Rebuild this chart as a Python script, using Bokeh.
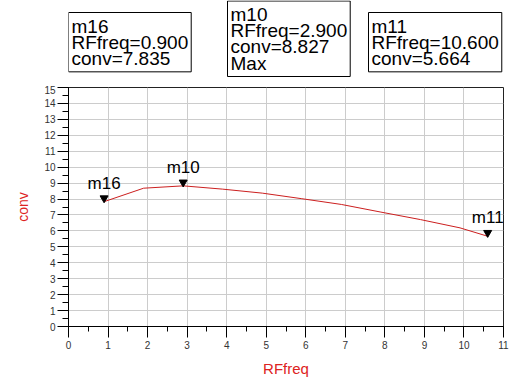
from bokeh.plotting import figure
from bokeh.models import Label, SingleIntervalTicker, Range1d
from bokeh.layouts import column
from bokeh.core.properties import value
from bokeh.embed import file_html
from bokeh.resources import INLINE

# ---- data ----
rf_freq = [0.9, 1.9, 2.9, 3.9, 4.9, 5.9, 6.9, 7.9, 8.9, 9.9, 10.6]
conv = [7.835, 8.68, 8.827, 8.62, 8.37, 8.02, 7.66, 7.18, 6.71, 6.19, 5.664]

marker_names = ["m16", "m10", "m11"]
marker_freq = [0.9, 2.9, 10.6]
marker_conv = [7.835, 8.827, 5.664]
marker_extra = ["", "Max", ""]

x_label = "RFfreq"
y_label = "conv"

FONT = "Liberation Sans"
W = 509
LEFT = 68
RIGHT = 6
HEADER_H = 85

# ---- main plot ----
p = figure(width=W, height=294, output_backend="svg", toolbar_location=None,
           x_range=Range1d(0, 11), y_range=Range1d(0, 15),
           min_border_left=LEFT, min_border_right=RIGHT, min_border_top=2, min_border_bottom=52)
p.background_fill_color = "white"
p.border_fill_color = "white"
p.outline_line_color = "#222222"
p.outline_line_width = 1

p.xaxis.ticker = SingleIntervalTicker(interval=1, num_minor_ticks=2)
p.yaxis.ticker = SingleIntervalTicker(interval=1, num_minor_ticks=2)
for ax in (p.xaxis[0], p.yaxis[0]):
    ax.axis_line_color = "black"
    ax.major_tick_line_color = "black"
    ax.minor_tick_line_color = "black"
    ax.major_tick_out = 11
    ax.major_tick_in = 0
    ax.minor_tick_out = 5
    ax.minor_tick_in = 0
    ax.major_label_text_font = FONT
    ax.major_label_text_font_size = "10px"
    ax.major_label_text_color = "#333333"
    ax.axis_label_text_font = FONT
    ax.axis_label_text_font_style = "normal"
    ax.axis_label_text_color = "#dd2222"
p.yaxis.minor_tick_out = 6
p.xaxis.major_label_standoff = 3
p.yaxis.major_label_standoff = 2
p.xaxis.axis_label = x_label
p.yaxis.axis_label = y_label
p.xaxis.axis_label_text_font_size = "15px"
p.yaxis.axis_label_text_font_size = "14px"
p.xaxis.axis_label_standoff = 8
p.yaxis.axis_label_standoff = 10

p.grid.grid_line_color = "#cccccc"
p.grid.grid_line_width = 1

p.line(rf_freq, conv, line_color="#cc1f1f", line_width=1)

# marker triangles: tip on the data point
px_per_unit_y = 240 / 15.0
tri_y = [v + 3.5 / px_per_unit_y for v in marker_conv]
p.scatter(marker_freq, tri_y, marker="inverted_triangle", size=8,
          fill_color="black", line_color="black")
p.text(marker_freq, marker_conv, text=marker_names, text_align="center",
       text_baseline="bottom", y_offset=-9, text_font=value(FONT),
       text_font_size="17px", text_color="black")

# ---- header with marker readout boxes ----
h = figure(width=W, height=HEADER_H, output_backend="svg", toolbar_location=None,
           x_range=Range1d(0, 11), y_range=Range1d(0, HEADER_H),
           min_border_left=LEFT, min_border_right=RIGHT, min_border_top=0, min_border_bottom=0)
h.axis.visible = False
h.grid.visible = False
h.outline_line_color = None
h.background_fill_color = "white"
h.border_fill_color = "white"

px_per_unit_x = (W - LEFT - RIGHT) / 11.0
box_left_px = [68, 227, 368]       # page pixels
box_top_px = [12, 0.5, 12]
for name, fx, cy, extra, bx, by in zip(marker_names, marker_freq, marker_conv,
                                        marker_extra, box_left_px, box_top_px):
    txt = f"{name}\n{x_label}={fx:.3f}\n{y_label}={cy:.3f}"
    if extra:
        txt += "\n" + extra
    lab = Label(x=(bx - LEFT) / px_per_unit_x, y=HEADER_H - by, text=txt, anchor="top_left",
                text_font=FONT, text_font_size="19px", text_color="black",
                text_line_height=0.77, padding=3,
                border_line_color="black", border_line_width=1,
                background_fill_color="white")
    h.add_layout(lab)

layout = column(h, p, spacing=0)
open("out.html", "w").write(file_html(layout, INLINE))
